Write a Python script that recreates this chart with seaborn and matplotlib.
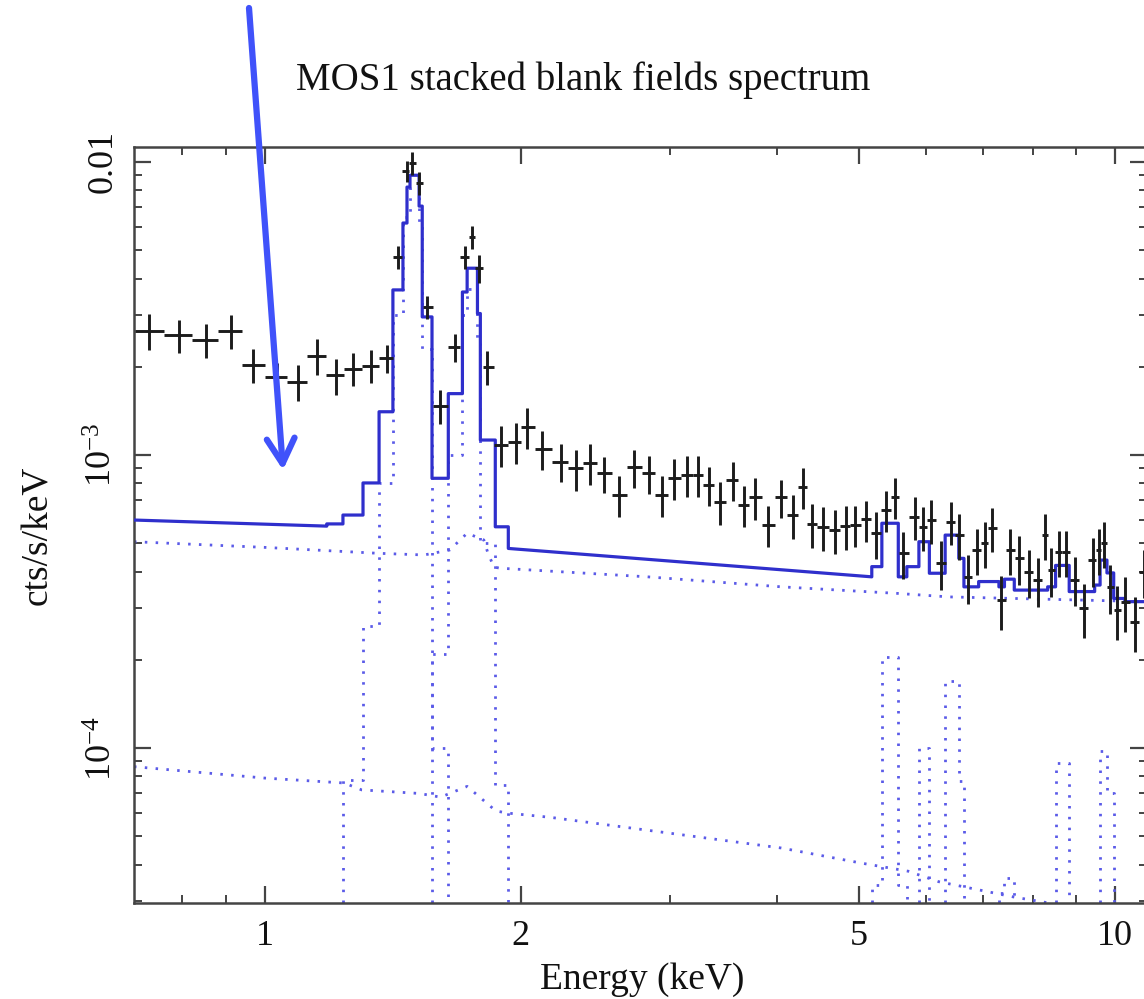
import numpy as np
import matplotlib
matplotlib.use("Agg")
import matplotlib.pyplot as plt
from matplotlib.ticker import FixedLocator, FixedFormatter, NullFormatter
import seaborn as sns

# ---------------------------------------------------------------------------
# Observed spectrum: bin centre energy (keV), rate (cts/s/keV), fractional error
# ---------------------------------------------------------------------------
ENERGY = [0.732, 0.792, 0.852, 0.912, 0.970, 1.033, 1.094, 1.152, 1.213, 1.270,
          1.334, 1.393, 1.435, 1.469, 1.489, 1.520, 1.551, 1.608, 1.675, 1.720,
          1.753, 1.785, 1.825, 1.895, 1.972, 2.035, 2.12, 2.23, 2.32, 2.41,
          2.506, 2.61, 2.72, 2.83, 2.93, 3.03, 3.14, 3.23, 3.33, 3.43,
          3.55, 3.66, 3.77, 3.91, 4.05, 4.18, 4.29, 4.40, 4.53, 4.68,
          4.82, 4.94, 5.10, 5.24, 5.38, 5.51, 5.63, 5.81, 5.95, 6.08,
          6.24, 6.42, 6.56, 6.71, 6.88, 7.03, 7.16, 7.35, 7.53, 7.71,
          7.91, 8.11, 8.28, 8.41, 8.58, 8.75, 8.97, 9.19, 9.41, 9.57,
          9.70, 9.87, 10.06, 10.28, 10.56, 10.80]
RATE = [2.65e-3, 2.56e-3, 2.47e-3, 2.65e-3, 2.03e-3, 1.85e-3, 1.78e-3, 2.18e-3, 1.87e-3, 1.97e-3,
        2.02e-3, 2.14e-3, 4.75e-3, 9.3e-3, 9.9e-3, 8.45e-3, 3.2e-3, 1.47e-3, 2.34e-3, 4.75e-3,
        5.56e-3, 4.34e-3, 2.0e-3, 1.08e-3, 1.11e-3, 1.25e-3, 1.05e-3, 9.5e-4, 9.0e-4, 9.37e-4,
        8.66e-4, 7.3e-4, 9.08e-4, 8.66e-4, 7.3e-4, 8.33e-4, 8.55e-4, 8.55e-4, 7.9e-4, 6.93e-4,
        8.22e-4, 6.75e-4, 7.17e-4, 5.77e-4, 7.17e-4, 6.24e-4, 7.8e-4, 5.81e-4, 5.69e-4, 5.55e-4,
        5.73e-4, 5.77e-4, 6.03e-4, 5.4e-4, 6.49e-4, 7.2e-4, 4.62e-4, 6.16e-4, 5.69e-4, 6.0e-4,
        4.29e-4, 5.92e-4, 5.33e-4, 3.84e-4, 4.74e-4, 5.0e-4, 5.62e-4, 3.2e-4, 4.74e-4, 4.44e-4,
        4.0e-4, 3.74e-4, 5.33e-4, 4.05e-4, 4.68e-4, 4.68e-4, 3.76e-4, 3.0e-4, 4.38e-4, 4.74e-4,
        5.0e-4, 3.55e-4, 2.96e-4, 3.16e-4, 2.7e-4, 4.0e-4]
RATE_ERR_FRAC = [0.14, 0.13, 0.13, 0.13, 0.13, 0.11, 0.14, 0.14, 0.14, 0.13,
                 0.13, 0.11, 0.09, 0.08, 0.09, 0.09, 0.09, 0.13, 0.11, 0.09,
                 0.09, 0.11, 0.13, 0.16, 0.16, 0.16, 0.15, 0.15, 0.16, 0.16,
                 0.14, 0.16, 0.15, 0.15, 0.16, 0.16, 0.16, 0.16, 0.15, 0.17,
                 0.15, 0.16, 0.16, 0.16, 0.15, 0.17, 0.16, 0.17, 0.17, 0.17,
                 0.17, 0.16, 0.16, 0.18, 0.16, 0.16, 0.18, 0.17, 0.17, 0.17,
                 0.19, 0.17, 0.18, 0.19, 0.18, 0.18, 0.17, 0.21, 0.18, 0.19,
                 0.19, 0.19, 0.18, 0.19, 0.18, 0.18, 0.19, 0.21, 0.19, 0.18,
                 0.18, 0.19, 0.21, 0.21, 0.21, 0.19]

# ---------------------------------------------------------------------------
# Folded model: total (solid) as a path of vertices
# ---------------------------------------------------------------------------
MODEL_E = [0.702, 1.183, 1.183, 1.236, 1.236, 1.305, 1.305, 1.363, 1.363, 1.415,
           1.415, 1.454, 1.454, 1.470, 1.470, 1.482, 1.482, 1.519, 1.519, 1.532,
           1.532, 1.573, 1.573, 1.644, 1.644, 1.708, 1.708, 1.730, 1.730, 1.779,
           1.779, 1.793, 1.793, 1.867, 1.867, 1.934, 1.934, 5.174, 5.174, 5.317,
           5.317, 5.559, 5.559, 5.689, 5.689, 5.878, 5.878, 6.047, 6.047, 6.311,
           6.311, 6.548, 6.548, 6.640, 6.640, 6.910, 6.910, 7.300, 7.300, 7.410,
           7.410, 7.610, 7.610, 8.330, 8.330, 8.510, 8.510, 8.830, 8.830, 9.460,
           9.460, 9.600, 9.600, 9.780, 9.780, 9.960, 9.960, 10.27, 10.27, 10.9]
MODEL_Y = [6.00e-4, 5.72e-4, 5.82e-4, 5.82e-4, 6.24e-4, 6.24e-4, 8.03e-4, 8.03e-4, 1.405e-3, 1.405e-3,
           3.66e-3, 3.66e-3, 6.19e-3, 6.19e-3, 8.21e-3, 8.21e-3, 9.01e-3, 9.01e-3, 7.07e-3, 7.07e-3,
           2.96e-3, 2.96e-3, 8.33e-4, 8.33e-4, 1.62e-3, 1.62e-3, 3.60e-3, 3.60e-3, 4.34e-3, 4.34e-3,
           3.04e-3, 3.04e-3, 1.125e-3, 1.125e-3, 5.69e-4, 5.69e-4, 4.80e-4, 3.84e-4, 4.16e-4, 4.16e-4,
           5.85e-4, 5.85e-4, 3.84e-4, 3.84e-4, 4.16e-4, 4.16e-4, 5.06e-4, 5.06e-4, 3.95e-4, 3.95e-4,
           5.33e-4, 5.33e-4, 4.44e-4, 4.44e-4, 3.55e-4, 3.55e-4, 3.70e-4, 3.70e-4, 3.55e-4, 3.55e-4,
           3.77e-4, 3.77e-4, 3.46e-4, 3.46e-4, 3.55e-4, 3.55e-4, 4.20e-4, 4.20e-4, 3.42e-4, 3.42e-4,
           3.60e-4, 3.60e-4, 4.38e-4, 4.38e-4, 3.96e-4, 3.96e-4, 3.24e-4, 3.24e-4, 3.16e-4, 3.16e-4]

# Continuum components (dotted)
PL1_E = [0.702, 1.00, 1.36, 1.54, 1.65, 1.73, 1.81, 1.83, 1.86, 1.89, 2.82, 4.05, 5.56, 6.37, 10.9]
PL1_Y = [5.06e-4, 4.84e-4, 4.62e-4, 4.56e-4, 4.74e-4, 5.41e-4, 5.13e-4, 4.63e-4, 4.15e-4, 4.11e-4,
         3.84e-4, 3.55e-4, 3.37e-4, 3.28e-4, 3.16e-4]
PL2_E = [0.702, 1.00, 1.24, 1.30, 1.52, 1.61, 1.73, 1.87, 1.93, 2.17, 4.05, 5.03, 5.71, 6.20, 7.61, 10.9]
PL2_Y = [8.64e-5, 7.9e-5, 7.6e-5, 7.2e-5, 7.0e-5, 6.8e-5, 7.4e-5, 6.1e-5, 6.0e-5, 5.8e-5,
         4.56e-5, 4.05e-5, 3.8e-5, 3.5e-5, 3.1e-5, 2.6e-5]

# Emission-line components (dotted, binned)
AL_EDGES = [1.236, 1.305, 1.363, 1.415, 1.454, 1.482, 1.519, 1.532, 1.573, 1.644]
AL_VALUES = [7.8e-5, 2.6e-4, 8.0e-4, 3.0e-3, 6.5e-3, 8.2e-3, 6.2e-3, 2.3e-3, 1.0e-4]
SI_EDGES = [1.573, 1.644, 1.708, 1.730, 1.779, 1.793, 1.867, 1.934]
SI_VALUES = [2.1e-4, 1.0e-3, 3.0e-3, 3.7e-3, 2.4e-3, 5.0e-4, 7.5e-5]
CR_EDGES = [5.174, 5.317, 5.559, 5.689]
CR_VALUES = [3.4e-5, 2.05e-4, 3.4e-5]
MN_EDGES = [5.878, 6.047]
MN_VALUES = [1.0e-4]
FE_EDGES = [6.311, 6.548, 6.640]
FE_VALUES = [1.7e-4, 7.7e-5]
NI_EDGES = [7.30, 7.41, 7.61]
NI_VALUES = [3.2e-5, 3.6e-5]
CU_EDGES = [8.51, 8.83]
CU_VALUES = [8.9e-5]
AU_EDGES = [9.60, 9.78, 9.96]
AU_VALUES = [9.8e-5, 7.0e-5]

X_MAJOR = [1, 2, 5, 10]
X_MAJOR_LABELS = ["1", "2", "5", "10"]
X_MINOR = [0.8, 0.9, 3, 4, 6, 7, 8, 9]
Y_MAJOR = [1e-4, 1e-3, 1e-2]
Y_MAJOR_LABELS = [r"$10^{-4}$", r"$10^{-3}$", "0.01"]

TITLE = "MOS1 stacked blank fields spectrum"
XLABEL = "Energy (keV)"
YLABEL = "cts/s/keV"

MODEL_COLOR = "#2f2fcc"
COMP_COLOR = "#5b5be8"
DATA_COLOR = "#1c1c1c"
ARROW_COLOR = "#4052fa"

# ---------------------------------------------------------------------------
sns.set_theme(style="ticks")
plt.rcParams["font.family"] = ["Liberation Serif", "DejaVu Serif"]
plt.rcParams["mathtext.fontset"] = "custom"
plt.rcParams["mathtext.rm"] = "Liberation Serif"
plt.rcParams["mathtext.it"] = "Liberation Serif:italic"

W, H = 1144, 999
fig = plt.figure(figsize=(W / 100, H / 100), dpi=100)
ax = fig.add_axes([134 / W, 96 / H, 1013 / W, 756 / H])
ax.set_xscale("log")
ax.set_yscale("log")
ax.set_xlim(0.702, 10.9)
ax.set_ylim(2.96e-5, 1.125e-2)

FLOOR = 1e-6


def stair_path(edges, values):
    xs, ys = [edges[0]], [FLOOR]
    for i, v in enumerate(values):
        xs += [edges[i], edges[i + 1]]
        ys += [v, v]
    xs.append(edges[-1])
    ys.append(FLOOR)
    return xs, ys


dotted = dict(color=COMP_COLOR, linewidth=2.0, linestyle=(0, (0.9, 3.0)),
              sort=False, estimator=None, legend=False)
for xs, ys in [(PL1_E, PL1_Y), (PL2_E, PL2_Y)]:
    sns.lineplot(x=xs, y=ys, ax=ax, **dotted)
for edges, values in [(AL_EDGES, AL_VALUES), (SI_EDGES, SI_VALUES), (CR_EDGES, CR_VALUES),
                      (MN_EDGES, MN_VALUES), (FE_EDGES, FE_VALUES), (NI_EDGES, NI_VALUES),
                      (CU_EDGES, CU_VALUES), (AU_EDGES, AU_VALUES)]:
    xs, ys = stair_path(edges, values)
    sns.lineplot(x=xs, y=ys, ax=ax, **dotted)

sns.lineplot(x=MODEL_E, y=MODEL_Y, ax=ax, color=MODEL_COLOR, linewidth=2.3,
             sort=False, estimator=None, legend=False, zorder=3)

# data crosses: horizontal bars span the channel, vertical bars the 1-sigma error
e = np.asarray(ENERGY)
mid = np.sqrt(e[1:] * e[:-1])
lo_edge = np.concatenate([[e[0] ** 2 / mid[0]], mid])
hi_edge = np.concatenate([mid, [e[-1] ** 2 / mid[-1]]])
r = np.asarray(RATE)
dr = r * np.asarray(RATE_ERR_FRAC)
ax.errorbar(e, r, xerr=[e - lo_edge, hi_edge - e], yerr=[dr, dr], fmt="none",
            ecolor=DATA_COLOR, elinewidth=2.1, capsize=0, zorder=4)

# axes frame and ticks
for s in ax.spines.values():
    s.set_color("#444444")
    s.set_linewidth(1.8)
ax.xaxis.set_major_locator(FixedLocator(X_MAJOR))
ax.xaxis.set_major_formatter(FixedFormatter(X_MAJOR_LABELS))
ax.xaxis.set_minor_locator(FixedLocator(X_MINOR))
ax.xaxis.set_minor_formatter(NullFormatter())
ax.yaxis.set_major_locator(FixedLocator(Y_MAJOR))
ax.yaxis.set_major_formatter(FixedFormatter(Y_MAJOR_LABELS))
ax.yaxis.set_minor_locator(FixedLocator(
    [m * 10.0 ** k for k in (-5, -4, -3) for m in range(2, 10)]))
ax.yaxis.set_minor_formatter(NullFormatter())
ax.tick_params(which="both", direction="in", top=True, right=True,
               color="#444444", labelcolor="#111111", labelsize=26)
ax.tick_params(which="major", length=12, width=1.6)
ax.tick_params(which="minor", length=6, width=1.4)
ax.tick_params(axis="x", which="major", pad=12)
ax.tick_params(axis="y", which="major", pad=10)
for lab in ax.get_yticklabels():
    lab.set_rotation(90)
    lab.set_va("center")

fig.text(583 / W, 1 - 90 / H, TITLE, ha="center", va="baseline", fontsize=28, color="#111111")
fig.text(642 / W, 1 - 989 / H, XLABEL, ha="center", va="baseline", fontsize=27, color="#111111")
fig.text(38 / W, 1 - 535 / H, YLABEL, ha="center", va="center", rotation=90,
         fontsize=27, color="#111111")

# pointer arrow
ax.annotate("", xy=(283, H - 470), xycoords="figure pixels",
            xytext=(249, H - 8), textcoords="figure pixels",
            arrowprops=dict(arrowstyle="->,head_length=0.9,head_width=0.5",
                            color=ARROW_COLOR, lw=4.5, mutation_scale=20,
                            capstyle="round", joinstyle="round",
                            shrinkA=0, shrinkB=0),
            annotation_clip=False, zorder=10)

fig.savefig("out.png", dpi=100)
